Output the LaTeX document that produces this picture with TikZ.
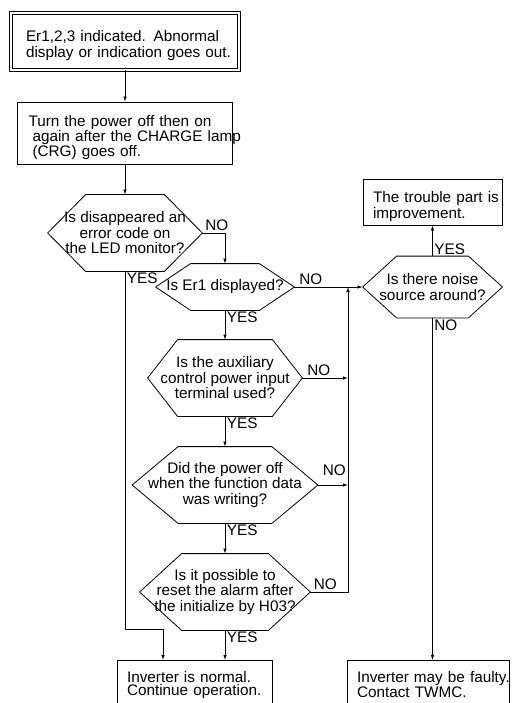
\documentclass[tikz,border=0pt]{standalone}
\usepackage{fontspec}
\setmainfont{Liberation Sans}
\usetikzlibrary{arrows.meta}

\tikzset{
  box/.style={draw, inner ysep=0pt, align=left, font=\fontsize{15.3}{13.3}\selectfont},
  qtext/.style={inner sep=0pt, align=center, font=\fontsize{15.3}{15.5}\selectfont},
  lbl/.style={inner sep=1.5pt, font=\fontsize{15.3}{15.5}\selectfont},
  arr/.style={-{Latex[length=5pt,width=3.5pt]}}
}

\begin{document}
\begin{tikzpicture}[x=1pt, y=-1pt, line width=0.8pt]
  \useasboundingbox (0,0) rectangle (515,703);

  \node[box, double, double distance=2.6pt, text width=198, inner xsep=15,
        minimum height=57, font=\fontsize{15.3}{16.7}\selectfont] (start) at (125,41.5)
        {\mbox{\rule{0pt}{19pt}Er1,2,3 indicated. Abnormal}\\ \mbox{display or indication goes out.}};
  \node[box, text width=193, inner xsep=11, minimum height=62] (power) at (125,133)
        {\mbox{\rule{0pt}{20pt}Turn the power off then on}\\ \mbox{\hspace*{4pt}again after the CHARGE lamp}\\ \mbox{\hspace*{4pt}(CRG) goes off.}};

  \node[qtext, minimum width=154, minimum height=76] (q1) at (125,233) {Is disappeared an\\ error code on\\ the LED monitor?};
  \node[qtext, minimum width=138, minimum height=46] (q2) at (225,287) {Is Er1 displayed?};
  \node[qtext, minimum width=154, minimum height=76] (q3) at (225,378) {Is the auxiliary\\ control power input\\ terminal used?};
  \node[qtext, minimum width=185, minimum height=76] (q4) at (225,485) {Did the power off\\ when the function data\\ was writing?};
  \node[qtext, minimum width=170, minimum height=76] (q5) at (225,592) {Is it possible to\\ reset the alarm after\\ the initialize by H03?};
  \node[qtext, minimum width=139, minimum height=61] (q6) at (432.5,287) {Is there noise\\ source around?};

  \foreach \n/\d in {q1/38, q2/35, q3/30, q4/46, q5/42, q6/34}{
    \draw (\n.west) -- ([xshift=\d]\n.north west) -- ([xshift=-\d]\n.north east)
      -- (\n.east) -- ([xshift=-\d]\n.south east) -- ([xshift=\d]\n.south west) -- cycle;
  }

  \node[box, text width=119, inner xsep=10, minimum height=46] (fix) at (432.5,202)
        {\mbox{\rule{0pt}{20pt}The trouble part is}\\ improvement.};
  \node[box, anchor=north, text width=135, inner xsep=10, inner ysep=11] (ok) at (194.5,660)
        {\mbox{Inverter is normal.}\\ \mbox{Continue operation.}\rule[-40pt]{0pt}{40pt}};
  \node[box, anchor=north, text width=142, inner xsep=10, inner ysep=11] (faulty) at (428,660)
        {\mbox{Inverter may be faulty.}\\ \mbox{Contact TWMC.}\rule[-40pt]{0pt}{40pt}};

  \node[lbl, above right, xshift=1] (no1) at (q1.east) {NO};
  \node[lbl, below right] (yes1) at (q1.south) {YES};
  \node[lbl, above right, xshift=3] (no2) at (q2.east) {NO};
  \node[lbl, below right] (yes2) at (q2.south) {YES};
  \node[lbl, above right, xshift=3] (no3) at (q3.east) {NO};
  \node[lbl, below right] (yes3) at (q3.south) {YES};
  \node[lbl, above right, xshift=3, yshift=7] (no4) at (q4.east) {NO};
  \node[lbl, below right] (yes4) at (q4.south) {YES};
  \node[lbl, above right, xshift=1.5] (no5) at (q5.east) {NO};
  \node[lbl, below right] (yes5) at (q5.south) {YES};
  \node[lbl, above right] (yes6) at (q6.north) {YES};
  \node[lbl, below right] (no6) at (q6.south) {NO};

  \coordinate (c1) at (163,629);
  \coordinate (j1) at (348,287);

  \draw[arr] (start.south) -- (power.north);
  \draw[arr] (power.south) -- (q1.north);
  \draw[arr] (q1.east) -| (q2.north);
  \draw[arr] (q1.south) |- (c1) -- (c1 |- ok.north);
  \draw[arr] (q2.south) -- (q3.north);
  \draw[arr] (q3.south) -- (q4.north);
  \draw[arr] (q4.south) -- (q5.north);
  \draw[arr] (q5.south) -- (q5.south |- ok.north);
  \draw[arr] (q2.east) -- (q6.west);
  \draw[arr] (q3.east) -- (q3.east -| j1);
  \draw[arr] (q4.east) -- (q4.east -| j1);
  \draw[arr] (q5.east) -| (j1);
  \draw[arr] (q6.north) -- (fix.south);
  \draw[arr] (q6.south) -- (q6.south |- faulty.north);
\end{tikzpicture}
\end{document}
